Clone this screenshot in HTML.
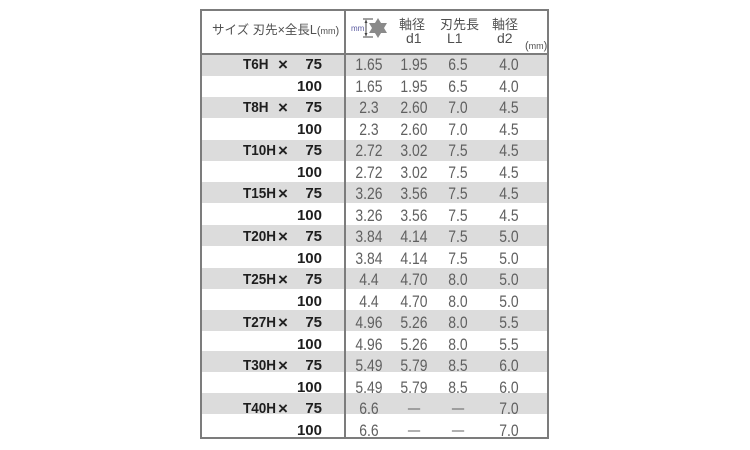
<!DOCTYPE html>
<html>
<head>
<meta charset="utf-8">
<style>
  html,body{margin:0;padding:0;background:#fff;}
  #c{position:relative;width:750px;height:450px;overflow:hidden;background:#fff;}
  .ln{position:absolute;background:#7c7c7c;}
  .band{position:absolute;left:201px;width:347px;background:#dcdcdc;}
  .t{position:absolute;font-family:"Liberation Sans",sans-serif;font-weight:bold;font-size:15px;color:#1e1e1e;line-height:20px;height:20px;white-space:pre;}
  .tc{transform:scaleX(0.9);transform-origin:0 50%;}
  .x{font-size:17px;font-weight:bold;color:#222;}
  .n{position:absolute;width:60px;text-align:center;font-family:"Liberation Sans",sans-serif;font-size:17px;color:#606060;line-height:20px;height:20px;transform:scaleX(0.82);white-space:pre;}
  .h{position:absolute;font-family:"Liberation Sans","Noto Sans CJK JP",sans-serif;color:#505050;white-space:pre;}
</style>
</head>
<body>
<div id="c">
  <!-- bands -->
  <div class="band" style="top:55px;height:21px"></div>
  <div class="band" style="top:97.3px;height:21px"></div>
  <div class="band" style="top:139.6px;height:21px"></div>
  <div class="band" style="top:181.9px;height:21px"></div>
  <div class="band" style="top:225px;height:21px"></div>
  <div class="band" style="top:267.5px;height:21px"></div>
  <div class="band" style="top:309.5px;height:21px"></div>
  <div class="band" style="top:351px;height:21px"></div>
  <div class="band" style="top:393px;height:21px"></div>

  <!-- borders -->
  <div class="ln" style="left:200px;top:9px;width:349px;height:2px"></div>
  <div class="ln" style="left:200px;top:437px;width:349px;height:2px"></div>
  <div class="ln" style="left:200px;top:9px;width:2px;height:430px"></div>
  <div class="ln" style="left:547px;top:9px;width:2px;height:430px"></div>
  <div class="ln" style="left:200px;top:53px;width:349px;height:2px"></div>
  <div class="ln" style="left:344px;top:9px;width:2px;height:430px"></div>

  <!-- header -->
  <div class="h" style="left:212px;top:22px;font-size:12.5px;line-height:16px;">サイズ 刃先×全長L<span style="font-size:11px">(</span><span style="font-size:9px">mm</span><span style="font-size:11px">)</span></div>
  <div class="h" style="left:351px;top:24px;font-size:8px;line-height:9px;color:#5a5aa0;">mm</div>
  <svg style="position:absolute;left:358px;top:16px" width="32" height="24" viewBox="0 0 32 24">
    <line x1="5" y1="3" x2="15" y2="3" stroke="#444" stroke-width="1"/>
    <line x1="5" y1="21" x2="15" y2="21" stroke="#444" stroke-width="1"/>
    <line x1="8" y1="4" x2="8" y2="20" stroke="#444" stroke-width="1"/>
    <polygon points="8,3.5 6.5,7 9.5,7" fill="#444"/>
    <polygon points="8,20.5 6.5,17 9.5,17" fill="#444"/>
    <polygon fill="#8a8a8a" points="20,2 23,7 29,7 26,12 29,17 23,17 20,22 17,17 11,17 14,12 11,7 17,7"/>
    <circle cx="20" cy="12" r="6" fill="#8a8a8a"/>
  </svg>
  <div class="h" style="left:399px;top:17px;font-size:13px;line-height:16px;">軸径</div>
  <div class="h" style="left:406px;top:30px;font-size:14px;line-height:16px;">d1</div>
  <div class="h" style="left:440px;top:17px;font-size:13px;line-height:16px;">刃先長</div>
  <div class="h" style="left:447px;top:30px;font-size:14px;line-height:16px;">L1</div>
  <div class="h" style="left:492px;top:17px;font-size:13px;line-height:16px;">軸径</div>
  <div class="h" style="left:497px;top:30px;font-size:14px;line-height:16px;">d2</div>
  <div class="h" style="left:525px;top:39px;font-size:11px;line-height:14px;">(<span style="font-size:9px">mm</span>)</div>

  <!-- row 0 -->
  <div class="t tc" style="left:243px;top:55.4px">T6H</div><div class="t x" style="left:278px;top:55.4px">×</div><div class="t" style="left:242px;width:80px;text-align:right;top:55.4px">75</div>
  <div class="n" style="left:339px;top:55.4px">1.65</div><div class="n" style="left:383.5px;top:55.4px">1.95</div><div class="n" style="left:428px;top:55.4px">6.5</div><div class="n" style="left:479px;top:55.4px">4.0</div>
  <!-- row 1 -->
  <div class="t" style="left:242px;width:80px;text-align:right;top:76.9px">100</div>
  <div class="n" style="left:339px;top:76.9px">1.65</div><div class="n" style="left:383.5px;top:76.9px">1.95</div><div class="n" style="left:428px;top:76.9px">6.5</div><div class="n" style="left:479px;top:76.9px">4.0</div>
  <!-- row 2 -->
  <div class="t tc" style="left:243px;top:98.4px">T8H</div><div class="t x" style="left:278px;top:98.4px">×</div><div class="t" style="left:242px;width:80px;text-align:right;top:98.4px">75</div>
  <div class="n" style="left:339px;top:98.4px">2.3</div><div class="n" style="left:383.5px;top:98.4px">2.60</div><div class="n" style="left:428px;top:98.4px">7.0</div><div class="n" style="left:479px;top:98.4px">4.5</div>
  <!-- row 3 -->
  <div class="t" style="left:242px;width:80px;text-align:right;top:119.9px">100</div>
  <div class="n" style="left:339px;top:119.9px">2.3</div><div class="n" style="left:383.5px;top:119.9px">2.60</div><div class="n" style="left:428px;top:119.9px">7.0</div><div class="n" style="left:479px;top:119.9px">4.5</div>
  <!-- row 4 -->
  <div class="t tc" style="left:243px;top:141.4px">T10H</div><div class="t x" style="left:278px;top:141.4px">×</div><div class="t" style="left:242px;width:80px;text-align:right;top:141.4px">75</div>
  <div class="n" style="left:339px;top:141.4px">2.72</div><div class="n" style="left:383.5px;top:141.4px">3.02</div><div class="n" style="left:428px;top:141.4px">7.5</div><div class="n" style="left:479px;top:141.4px">4.5</div>
  <!-- row 5 -->
  <div class="t" style="left:242px;width:80px;text-align:right;top:162.9px">100</div>
  <div class="n" style="left:339px;top:162.9px">2.72</div><div class="n" style="left:383.5px;top:162.9px">3.02</div><div class="n" style="left:428px;top:162.9px">7.5</div><div class="n" style="left:479px;top:162.9px">4.5</div>
  <!-- row 6 -->
  <div class="t tc" style="left:243px;top:184.4px">T15H</div><div class="t x" style="left:278px;top:184.4px">×</div><div class="t" style="left:242px;width:80px;text-align:right;top:184.4px">75</div>
  <div class="n" style="left:339px;top:184.4px">3.26</div><div class="n" style="left:383.5px;top:184.4px">3.56</div><div class="n" style="left:428px;top:184.4px">7.5</div><div class="n" style="left:479px;top:184.4px">4.5</div>
  <!-- row 7 -->
  <div class="t" style="left:242px;width:80px;text-align:right;top:205.9px">100</div>
  <div class="n" style="left:339px;top:205.9px">3.26</div><div class="n" style="left:383.5px;top:205.9px">3.56</div><div class="n" style="left:428px;top:205.9px">7.5</div><div class="n" style="left:479px;top:205.9px">4.5</div>
  <!-- row 8 -->
  <div class="t tc" style="left:243px;top:227.4px">T20H</div><div class="t x" style="left:278px;top:227.4px">×</div><div class="t" style="left:242px;width:80px;text-align:right;top:227.4px">75</div>
  <div class="n" style="left:339px;top:227.4px">3.84</div><div class="n" style="left:383.5px;top:227.4px">4.14</div><div class="n" style="left:428px;top:227.4px">7.5</div><div class="n" style="left:479px;top:227.4px">5.0</div>
  <!-- row 9 -->
  <div class="t" style="left:242px;width:80px;text-align:right;top:248.9px">100</div>
  <div class="n" style="left:339px;top:248.9px">3.84</div><div class="n" style="left:383.5px;top:248.9px">4.14</div><div class="n" style="left:428px;top:248.9px">7.5</div><div class="n" style="left:479px;top:248.9px">5.0</div>
  <!-- row 10 -->
  <div class="t tc" style="left:243px;top:270.4px">T25H</div><div class="t x" style="left:278px;top:270.4px">×</div><div class="t" style="left:242px;width:80px;text-align:right;top:270.4px">75</div>
  <div class="n" style="left:339px;top:270.4px">4.4</div><div class="n" style="left:383.5px;top:270.4px">4.70</div><div class="n" style="left:428px;top:270.4px">8.0</div><div class="n" style="left:479px;top:270.4px">5.0</div>
  <!-- row 11 -->
  <div class="t" style="left:242px;width:80px;text-align:right;top:291.9px">100</div>
  <div class="n" style="left:339px;top:291.9px">4.4</div><div class="n" style="left:383.5px;top:291.9px">4.70</div><div class="n" style="left:428px;top:291.9px">8.0</div><div class="n" style="left:479px;top:291.9px">5.0</div>
  <!-- row 12 -->
  <div class="t tc" style="left:243px;top:313.4px">T27H</div><div class="t x" style="left:278px;top:313.4px">×</div><div class="t" style="left:242px;width:80px;text-align:right;top:313.4px">75</div>
  <div class="n" style="left:339px;top:313.4px">4.96</div><div class="n" style="left:383.5px;top:313.4px">5.26</div><div class="n" style="left:428px;top:313.4px">8.0</div><div class="n" style="left:479px;top:313.4px">5.5</div>
  <!-- row 13 -->
  <div class="t" style="left:242px;width:80px;text-align:right;top:334.9px">100</div>
  <div class="n" style="left:339px;top:334.9px">4.96</div><div class="n" style="left:383.5px;top:334.9px">5.26</div><div class="n" style="left:428px;top:334.9px">8.0</div><div class="n" style="left:479px;top:334.9px">5.5</div>
  <!-- row 14 -->
  <div class="t tc" style="left:243px;top:356.4px">T30H</div><div class="t x" style="left:278px;top:356.4px">×</div><div class="t" style="left:242px;width:80px;text-align:right;top:356.4px">75</div>
  <div class="n" style="left:339px;top:356.4px">5.49</div><div class="n" style="left:383.5px;top:356.4px">5.79</div><div class="n" style="left:428px;top:356.4px">8.5</div><div class="n" style="left:479px;top:356.4px">6.0</div>
  <!-- row 15 -->
  <div class="t" style="left:242px;width:80px;text-align:right;top:377.9px">100</div>
  <div class="n" style="left:339px;top:377.9px">5.49</div><div class="n" style="left:383.5px;top:377.9px">5.79</div><div class="n" style="left:428px;top:377.9px">8.5</div><div class="n" style="left:479px;top:377.9px">6.0</div>
  <!-- row 16 -->
  <div class="t tc" style="left:243px;top:399.4px">T40H</div><div class="t x" style="left:278px;top:399.4px">×</div><div class="t" style="left:242px;width:80px;text-align:right;top:399.4px">75</div>
  <div class="n" style="left:339px;top:399.4px">6.6</div><div class="n" style="left:383.5px;top:399.4px;font-size:15px">—</div><div class="n" style="left:428px;top:399.4px;font-size:15px">—</div><div class="n" style="left:479px;top:399.4px">7.0</div>
  <!-- row 17 -->
  <div class="t" style="left:242px;width:80px;text-align:right;top:420.9px">100</div>
  <div class="n" style="left:339px;top:420.9px">6.6</div><div class="n" style="left:383.5px;top:420.9px;font-size:15px">—</div><div class="n" style="left:428px;top:420.9px;font-size:15px">—</div><div class="n" style="left:479px;top:420.9px">7.0</div>
</div>
</body>
</html>
